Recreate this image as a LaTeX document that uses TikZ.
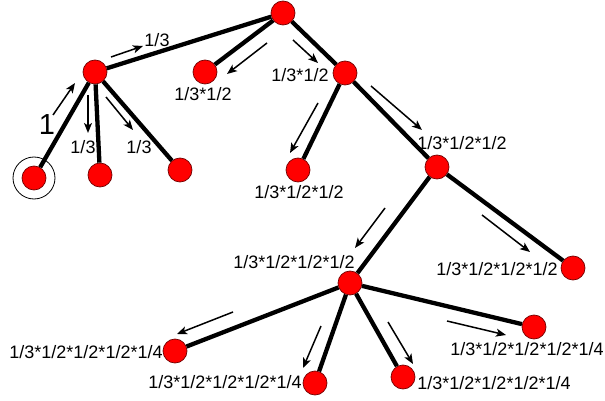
\documentclass[tikz,border=0pt]{standalone}
\usepackage{fontspec}
\setmainfont{Liberation Sans}
\usetikzlibrary{arrows.meta}
\begin{document}
\begin{tikzpicture}[x=1pt,y=-1pt,
  ball/.style={circle,fill=red,draw=red!45!black,line width=0.7pt,minimum size=24pt,inner sep=0pt},
  branch/.style={line width=4.3pt},
  flowarrow/.style={line width=1.5pt,-{Stealth[length=10pt,width=8pt,inset=2.5pt]}},
  lbl/.style={font=\fontsize{18}{20}\selectfont,inner sep=0pt}]
\useasboundingbox (0,0) rectangle (605,401);
% nodes
\node[ball] (root) at (283,13) {};
\node[ball] (a) at (95,72) {};
\node[ball] (b) at (205,72) {};
\node[ball] (c) at (345,73) {};
\node[ball] (l1) at (34,178) {};
\node[ball] (l2) at (100,175) {};
\node[ball] (l3) at (180,170) {};
\node[ball] (d) at (298,170) {};
\node[ball] (e) at (437,167) {};
\node[ball] (f) at (573,268) {};
\node[ball] (g) at (350,283) {};
\node[ball] (h1) at (175,351) {};
\node[ball] (h2) at (315,383) {};
\node[ball] (h3) at (403,377) {};
\node[ball] (h4) at (534,327) {};
\node[circle,draw,line width=0.8pt,minimum size=42pt,inner sep=0pt] (ring) at (l1) {};
% branches
\foreach \u/\v in {root/a,root/b,root/c,a/l1,a/l2,a/l3,c/d,c/e,e/g,e/f,g/h1,g/h2,g/h3,g/h4}
  \draw[branch] (\u) -- (\v);
% arrows
\draw[flowarrow] (53,115) -- (75,83);
\draw[flowarrow] (111,57) -- (143,46);
\draw[flowarrow] (88,95) -- (88,133);
\draw[flowarrow] (106,97) -- (133,130);
\draw[flowarrow] (267,43) -- (227,74);
\draw[flowarrow] (293,40) -- (318,63);
\draw[flowarrow] (318,103) -- (290,153);
\draw[flowarrow] (371,86) -- (422,130);
\draw[flowarrow] (385,208) -- (355,248);
\draw[flowarrow] (482,215) -- (530,252);
\draw[flowarrow] (233,312) -- (177,334);
\draw[flowarrow] (321,326) -- (303,368);
\draw[flowarrow] (388,322) -- (413,364);
\draw[flowarrow] (447,321) -- (506,335);
% labels
\node[font=\fontsize{29}{30}\selectfont,inner sep=0pt] (t1) at (47,125) {1};
\node[lbl] (t2) at (157,40) {1/3};
\node[lbl] (t3) at (83,147) {1/3};
\node[lbl] (t4) at (139,147) {1/3};
\node[lbl] (t5) at (203,94) {1/3*1/2};
\node[lbl] (t6) at (300,75) {1/3*1/2};
\node[lbl] (t7) at (299,192) {1/3*1/2*1/2};
\node[lbl] (t8) at (462,143) {1/3*1/2*1/2};
\node[lbl] (t9) at (294,262) {1/3*1/2*1/2*1/2};
\node[lbl] (t10) at (497,269) {1/3*1/2*1/2*1/2};
\node[lbl] (t11) at (86,352) {1/3*1/2*1/2*1/2*1/4};
\node[lbl] (t12) at (225,382) {1/3*1/2*1/2*1/2*1/4};
\node[lbl] (t13) at (494,383) {1/3*1/2*1/2*1/2*1/4};
\node[lbl] (t14) at (527,349) {1/3*1/2*1/2*1/2*1/4};
\end{tikzpicture}
\end{document}
